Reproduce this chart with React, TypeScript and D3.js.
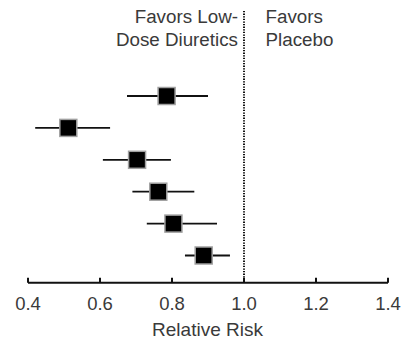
import React from "react";
import * as d3 from "d3";

const studies = ["1", "2", "3", "4", "5", "6"];
const rr = [0.785, 0.512, 0.703, 0.762, 0.804, 0.888];
const lower = [0.675, 0.42, 0.608, 0.69, 0.73, 0.836];
const upper = [0.9, 0.628, 0.797, 0.862, 0.925, 0.961];
const ticks = [0.4, 0.6, 0.8, 1.0, 1.2, 1.4];
const leftLabel = ["Favors Low-", "Dose Diuretics"];
const rightLabel = ["Favors", "Placebo"];
const xTitle = "Relative Risk";

export default function App() {
  const W = 402, H = 341;
  const x = d3.scaleLinear().domain([0.4, 1.4]).range([28, 388]);
  const y = d3.scalePoint<string>().domain(studies).range([96, 255.5]);
  const axisY = 282.7;
  const font = "'Liberation Sans', Arial, Helvetica, sans-serif";
  const color = "#3a3a3a";
  const sq = 17;
  return (
    <svg width={W} height={H} style={{ position: "absolute", left: 0, top: 0, background: "#fff" }}>
      <line x1={x(1)} x2={x(1)} y1={11} y2={axisY} stroke="#111" strokeWidth={2} strokeDasharray="1.3,1.3" />
      {leftLabel.map((t, i) => (
        <text key={"l" + i} x={238} y={22.5 + i * 23} textAnchor="end" fontFamily={font} fontSize={18.8} fill={color}>{t}</text>
      ))}
      {rightLabel.map((t, i) => (
        <text key={"r" + i} x={265.5} y={22.5 + i * 23} textAnchor="start" fontFamily={font} fontSize={18.8} fill={color}>{t}</text>
      ))}
      {studies.map((s, i) => {
        const cy = y(s)!;
        return (
          <g key={s}>
            <line x1={x(lower[i])} x2={x(upper[i])} y1={cy} y2={cy} stroke="#111" strokeWidth={1.8} />
            <rect x={x(rr[i]) - sq / 2} y={cy - sq / 2} width={sq} height={sq} fill="#000" stroke="#a0a0a0" strokeWidth={1.5} />
          </g>
        );
      })}
      <line x1={x(0.4)} x2={x(1.4)} y1={axisY} y2={axisY} stroke="#111" strokeWidth={2} />
      {ticks.map((t) => (
        <g key={t}>
          <line x1={x(t)} x2={x(t)} y1={axisY} y2={axisY - 5} stroke="#111" strokeWidth={2} />
          <text x={x(t)} y={310} textAnchor="middle" fontFamily={font} fontSize={18.5} fill={color}>{d3.format(".1f")(t)}</text>
        </g>
      ))}
      <text x={x(0.9) - 0.5} y={336} textAnchor="middle" fontFamily={font} fontSize={19} fill={color}>{xTitle}</text>
    </svg>
  );
}
